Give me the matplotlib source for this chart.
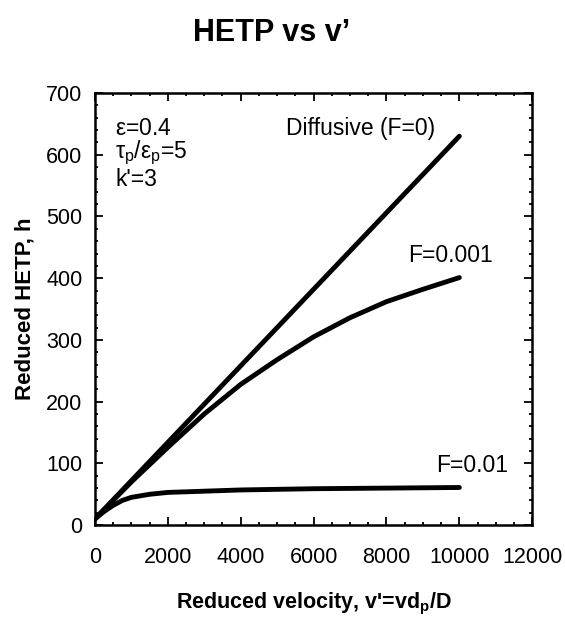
import matplotlib
matplotlib.use('Agg')
import matplotlib.pyplot as plt
from matplotlib.ticker import MultipleLocator

plt.rcParams['font.family'] = ['Liberation Sans', 'DejaVu Sans']

# reduced velocity v' and reduced HETP h
v_diff = [0, 10000]
h_diff = [10, 630]

v_f001 = [0, 500, 1000, 2000, 3000, 4000, 5000, 6000, 7000, 8000, 9000, 10000]
h_f001 = [10, 40, 70, 126, 180, 228, 268, 305, 336, 362, 382, 401]

v_f01 = [0, 250, 500, 750, 1000, 1500, 2000, 3000, 4000, 6000, 8000, 10000]
h_f01 = [10, 22, 32, 40, 45, 50, 53, 55, 57, 59, 60, 61]

fig = plt.figure(figsize=(5.65, 6.2), dpi=100)
ax = fig.add_axes([0.168, 0.153, 0.774, 0.697])

ax.plot(v_diff, h_diff, color='black', linewidth=3.5, solid_capstyle='round')
ax.plot(v_f001, h_f001, color='black', linewidth=3.5, solid_capstyle='round')
ax.plot(v_f01, h_f01, color='black', linewidth=3.5, solid_capstyle='round')

fs = 16.5
ax.text(7280, 643, 'Diffusive (F=0)', fontsize=fs, ha='center', va='center')
ax.text(9750, 437, 'F=0.001', fontsize=fs, ha='center', va='center')
ax.text(10350, 97, 'F=0.01', fontsize=fs, ha='center', va='center')

ax.text(0.046, 0.917, r'$\mathregular{\varepsilon}$=0.4', transform=ax.transAxes,
        fontsize=fs, va='center')
ax.text(0.046, 0.861, r'$\mathregular{\tau_p/\varepsilon_p}$=5', transform=ax.transAxes,
        fontsize=fs, va='center')
ax.text(0.046, 0.799, "k'=3", transform=ax.transAxes, fontsize=fs, va='center')

ax.set_xlim(0, 12000)
ax.set_ylim(0, 700)
ax.xaxis.set_major_locator(MultipleLocator(2000))
ax.xaxis.set_minor_locator(MultipleLocator(500))
ax.yaxis.set_major_locator(MultipleLocator(100))
ax.yaxis.set_minor_locator(MultipleLocator(20))

ax.tick_params(which='both', direction='in', top=True, right=True, width=1.3)
ax.tick_params(which='major', length=6)
ax.tick_params(which='minor', length=2.5)
ax.tick_params(axis='x', which='major', pad=16, labelsize=15.5)
ax.tick_params(axis='y', which='major', pad=9, labelsize=15.5)
for sp in ax.spines.values():
    sp.set_linewidth(1.8)

ax.set_xlabel(r"Reduced velocity, v'=vd$\mathregular{_p}$/D", fontsize=15.5,
              fontweight='bold', labelpad=16)
ax.set_ylabel('Reduced HETP, h', fontsize=16, fontweight='bold', labelpad=8)

fig.text(272 / 565, 1 - 33 / 620, "HETP vs v\u2019", fontsize=22, fontweight='bold',
         ha='center', va='center')

fig.savefig('out.png', dpi=100)
